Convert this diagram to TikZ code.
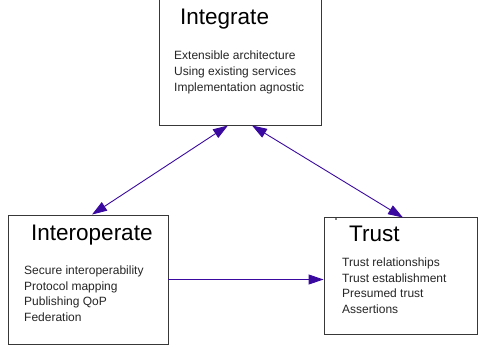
\documentclass[tikz,border=0pt]{standalone}
\usepackage{fontspec}
\setmainfont{Liberation Sans}
\usetikzlibrary{arrows.meta,calc}
\definecolor{arrowc}{HTML}{3A0AA0}
\definecolor{boxc}{HTML}{383838}
\begin{document}
\begin{tikzpicture}[x=1pt,y=-1pt,
  boxnode/.style={draw=boxc,line width=0.9pt,rectangle,inner sep=0pt,fill=white},
  titletext/.style={anchor=base west,inner sep=0pt,font=\fontsize{22.5}{26}\selectfont},
  itemtext/.style={anchor=base west,inner sep=0pt,font=\fontsize{12}{16}\selectfont,text=black!85},
  link/.style={draw=arrowc,line width=0.9pt},
  tip/.style={-{Triangle[length=15pt,width=10pt]}},
  tips/.style={{Triangle[length=15pt,width=10pt]}-{Triangle[length=15pt,width=10pt]}}]
\useasboundingbox (0,0) rectangle (478,346);
\clip (0,0) rectangle (478,346);
% boxes
\node[boxnode,minimum width=162pt,minimum height=130pt] (integ) at (240,60) {};
\node[boxnode,minimum width=160pt,minimum height=129pt] (interop) at (88,279.5) {};
\node[boxnode,minimum width=153pt,minimum height=117pt] (trust) at (400.5,275.5) {};
% titles
\node[titletext] (integT) at (180,24) {Integrate};
\node[titletext] (interopT) at (31,240) {Interoperate};
\node[titletext] (trustT) at (349,241) {Trust};
% items
\node[itemtext] (i1) at (174,59) {Extensible architecture};
\node[itemtext] (i2) at (174,75) {Using existing services};
\node[itemtext] (i3) at (174,91) {Implementation agnostic};
\node[itemtext] (o1) at (24,274) {Secure interoperability};
\node[itemtext] (o2) at (24,290) {Protocol mapping};
\node[itemtext] (o3) at (24,305.5) {Publishing QoP};
\node[itemtext] (o4) at (24,321) {Federation};
\node[itemtext] (t1) at (342,266) {Trust relationships};
\node[itemtext] (t2) at (342,282) {Trust establishment};
\node[itemtext] (t3) at (342,297.5) {Presumed trust};
\node[itemtext] (t4) at (342,313) {Assertions};
% small dot
\fill[black] (336,219) circle (0.8pt);
% connectors
\draw[link,tips] ([xshift=-12pt]integ.south) -- ([xshift=4pt]interop.north);
\draw[link,tips] ([xshift=12pt]integ.south) -- ([xshift=2.5pt,yshift=-1pt]trust.north);
\draw[link,tip] (interop.east) -- (interop.east -| trust.west);
\end{tikzpicture}
\end{document}
